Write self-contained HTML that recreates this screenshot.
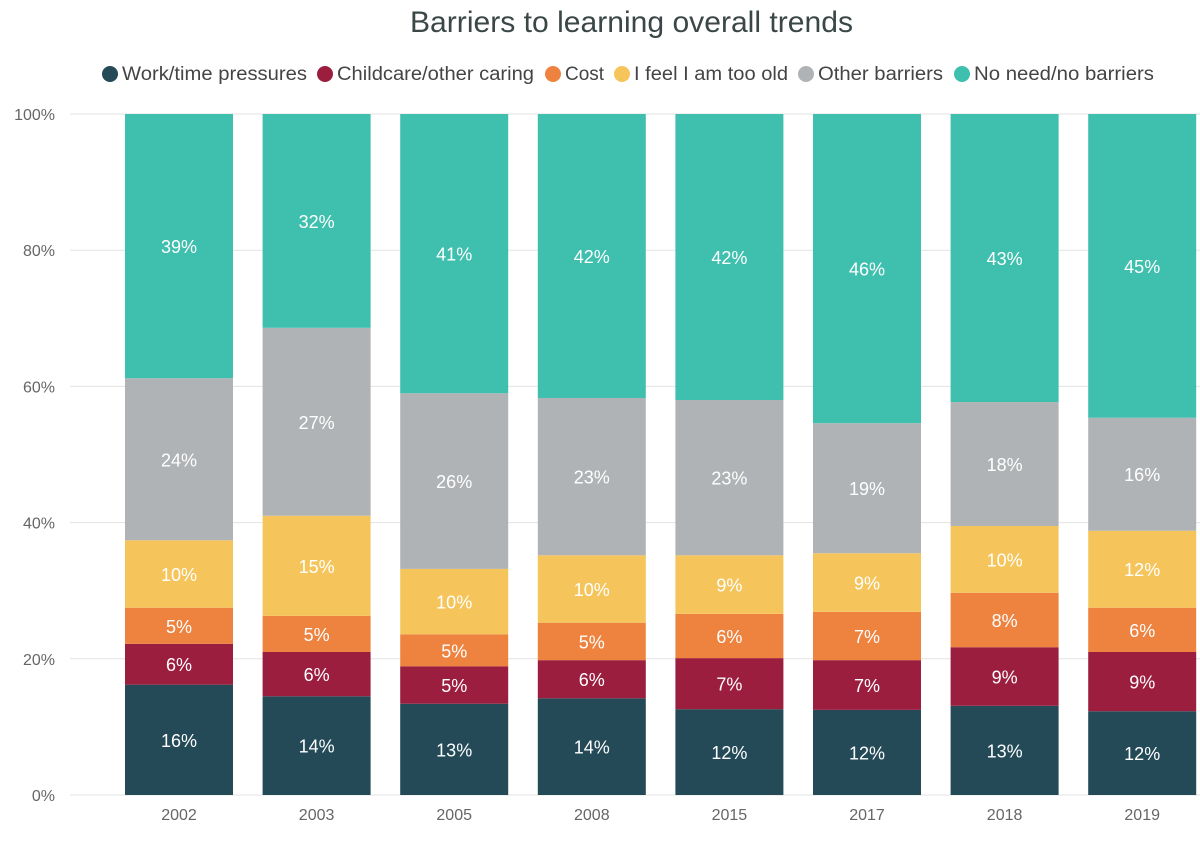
<!DOCTYPE html>
<html><head><meta charset="utf-8">
<style>
body{margin:0;background:#fff;font-family:"Liberation Sans",sans-serif;}
svg{display:block}
</style></head>
<body>
<svg id="chart" width="1200" height="841">
<text x="410" y="32" font-size="30" fill="#3b4747" textLength="443" lengthAdjust="spacingAndGlyphs">Barriers to learning overall trends</text>
<g id="legend"></g>
<g id="grid"></g>
<g id="bars"></g>
<g id="xaxis"></g>
</svg>
<script>
const categories=["2002","2003","2005","2008","2015","2017","2018","2019"];
const seriesNames=["Work/time pressures","Childcare/other caring","Cost","I feel I am too old","Other barriers","No need/no barriers"];
const work=[16.2,14.5,13.4,14.2,12.6,12.5,13.1,12.3];
const childcare=[6.0,6.5,5.5,5.6,7.5,7.3,8.6,8.7];
const cost=[5.3,5.3,4.7,5.5,6.5,7.1,8.0,6.5];
const tooOld=[9.9,14.7,9.6,9.9,8.6,8.6,9.8,11.3];
const other=[23.8,27.6,25.8,23.1,22.8,19.1,18.2,16.6];
const noNeed=[38.8,31.4,41.0,41.7,42.0,45.4,42.3,44.6];
const workLbl=["16%","14%","13%","14%","12%","12%","13%","12%"];
const childLbl=["6%","6%","5%","6%","7%","7%","9%","9%"];
const costLbl=["5%","5%","5%","5%","6%","7%","8%","6%"];
const oldLbl=["10%","15%","10%","10%","9%","9%","10%","12%"];
const otherLbl=["24%","27%","26%","23%","23%","19%","18%","16%"];
const noNeedLbl=["39%","32%","41%","42%","42%","46%","43%","45%"];
const yTicks=[0,20,40,60,80,100];
const colors=["#244a58","#9c1e3f","#ee8340","#f5c55c","#b0b3b5","#3fbfae"];
const series=[work,childcare,cost,tooOld,other,noNeed];
const labels=[workLbl,childLbl,costLbl,oldLbl,otherLbl,noNeedLbl];
const NS="http://www.w3.org/2000/svg";
const y0=795,y1=114,bandX0=110.2,band=137.6,barW=108;
const yS=v=>y0-(y0-y1)*v/100;
const xC=i=>bandX0+band*(i+0.5);
function mk(t,a,p){const e=document.createElementNS(NS,t);for(const k in a)e.setAttribute(k,a[k]);p.appendChild(e);return e;}
const grid=document.getElementById('grid');
yTicks.forEach(t=>{
  const l=mk('line',{x1:70,x2:1200,y1:yS(t),y2:yS(t),stroke:"#e3e3e3","stroke-width":1},grid);
  
  
  const tx=mk('text',{x:55,y:yS(t)+6,"text-anchor":"end","font-size":16,fill:"#666"},grid);
  tx.textContent=t+"%";
  
  
});
const bars=document.getElementById('bars');
categories.forEach((c,i)=>{
  let cum=0;
  series.forEach((s,k)=>{
    const top=cum+s[i];
    const r=mk('rect',{x:xC(i)-barW/2,y:yS(top),width:barW,height:yS(cum)-yS(top),fill:colors[k]},bars);
    
    
    const t=mk('text',{x:xC(i),y:(yS(top)+yS(cum))/2+7,"text-anchor":"middle","font-size":18,fill:"#fff"},bars);
    t.textContent=labels[k][i];
    
    
    cum=top;
  });
  const xt=mk('text',{x:xC(i),y:820,"text-anchor":"middle","font-size":16,fill:"#666"},document.getElementById('xaxis'));
  xt.textContent=c;
  
  
});
const lg=document.getElementById('legend');
const lx=[110,325,553,622,806,962];
const lw=[185,197,39,154,125,180];
seriesNames.forEach((n,k)=>{
  const g=mk('g',{},lg);
  
  
  mk('circle',{cx:lx[k],cy:74,r:8,fill:colors[k]},g);
  const t=mk('text',{x:lx[k]+12,y:80,"font-size":19,fill:"#444",textLength:lw[k],lengthAdjust:"spacingAndGlyphs"},g);
  t.textContent=n;
});
</script>
</body></html>
